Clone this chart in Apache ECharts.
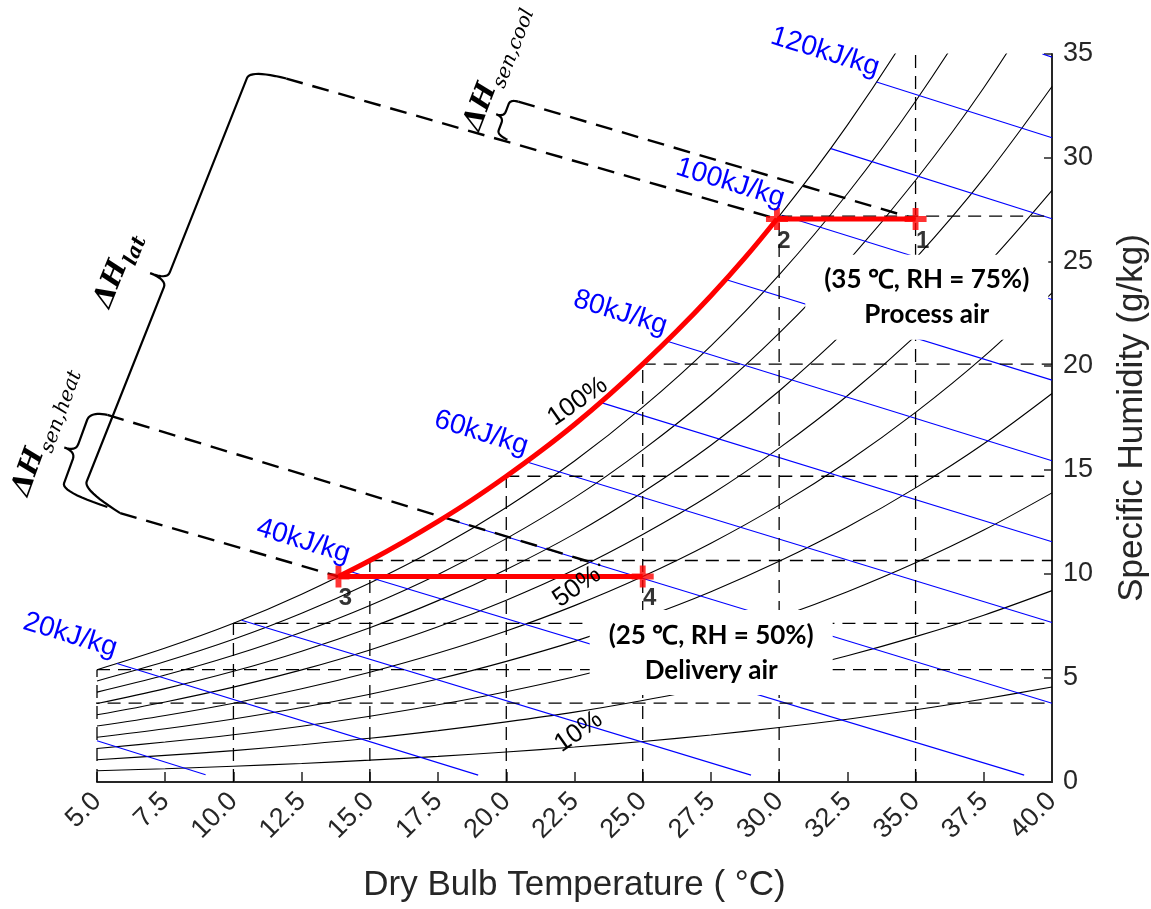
<!DOCTYPE html>
<html><head><meta charset="utf-8">
<script src="https://cdn.jsdelivr.net/npm/echarts@6.0.0/dist/echarts.min.js"></script>
<style>html,body{margin:0;padding:0;background:#fff;}#chart{width:1151px;height:909px;}</style>
</head><body><div id="chart"></div>
<script>
// ---------------- data ----------------
const TEMPS = [5, 7.5, 10, 12.5, 15, 17.5, 20, 22.5, 25, 27.5, 30, 32.5, 35, 37.5, 40];
const RH_LEVELS = [10, 20, 30, 40, 50, 60, 70, 80, 90, 100];
const W_RH10  = [0.54, 0.64, 0.76, 0.89, 1.05, 1.23, 1.44, 1.68, 1.95, 2.26, 2.62, 3.02, 3.47, 3.99, 4.57];
const W_RH20  = [1.07, 1.28, 1.51, 1.79, 2.10, 2.47, 2.89, 3.36, 3.92, 4.54, 5.26, 6.07, 6.99, 8.02, 9.20];
const W_RH30  = [1.61, 1.92, 2.27, 2.68, 3.16, 3.71, 4.34, 5.06, 5.89, 6.84, 7.92, 9.15, 10.54, 12.11, 13.90];
const W_RH40  = [2.15, 2.56, 3.03, 3.58, 4.22, 4.95, 5.80, 6.76, 7.88, 9.15, 10.61, 12.26, 14.14, 16.26, 18.68];
const W_RH50  = [2.69, 3.20, 3.79, 4.48, 5.28, 6.20, 7.26, 8.48, 9.88, 11.48, 13.31, 15.40, 17.77, 20.45, 23.52];
const W_RH60  = [3.23, 3.85, 4.56, 5.39, 6.35, 7.46, 8.74, 10.20, 11.90, 13.82, 16.05, 18.57, 21.45, 24.71, 28.44];
const W_RH70  = [3.77, 4.49, 5.32, 6.29, 7.42, 8.72, 10.22, 11.93, 13.93, 16.19, 18.80, 21.78, 25.17, 29.02, 33.44];
const W_RH80  = [4.32, 5.14, 6.09, 7.20, 8.49, 9.98, 11.70, 13.67, 15.97, 18.57, 21.58, 25.01, 28.93, 33.38, 38.51];
const W_RH90  = [4.86, 5.79, 6.86, 8.11, 9.57, 11.25, 13.20, 15.43, 18.02, 20.97, 24.38, 28.28, 32.73, 37.81, 43.66];
const W_RH100 = [5.40, 6.44, 7.63, 9.03, 10.65, 12.53, 14.70, 17.19, 20.09, 23.38, 27.21, 31.58, 36.58, 42.30, 48.89];

const ENTHALPY_LEVELS = [10, 20, 30, 40, 50, 60, 70, 80, 90, 100, 110, 120, 130];
const ENTHALPY_START = [[5, 1.98], [5.73, 5.70], [10.3, 7.78], [14.25, 10.13], [17.72, 12.70], [20.73, 15.40], [23.45, 18.25], [25.87, 21.20], [28.07, 24.15], [30.1, 27.25], [31.9, 30.45], [33.57, 33.65], [39.65, 35]];
const ENTHALPY_END = [[8.98, 0.35], [18.97, 0.33], [28.97, 0.33], [38.98, 0.33], [40, 3.79], [40, 7.67], [40, 11.55], [40, 15.44], [40, 19.32], [40, 23.20], [40, 27.08], [40, 30.97], [40, 34.85]];
const ENTHALPY_LABELS = ['20kJ/kg', '40kJ/kg', '60kJ/kg', '80kJ/kg', '100kJ/kg', '120kJ/kg'];
const ENTHALPY_LABEL_POS = [[4.02, 7.06], [12.56, 11.58], [19.08, 16.78], [24.18, 22.56], [28.21, 28.80], [31.68, 35.10]];

const RH_LABELS = ['100%', '50%', '10%'];
const RH_LABEL_POS = [[22.61, 18.29], [22.59, 9.38], [22.65, 2.41]];

const GRID_TEMPS = [0, 5, 10, 15, 20, 25, 30, 35];
const GRID_WSAT = [3.79, 5.40, 7.63, 10.65, 14.70, 20.09, 27.21, 36.58];

const STATE_NAMES = ['1', '2', '3', '4'];
const STATE_T = [35, 29.92, 13.85, 25];
const STATE_W = [27.07, 27.07, 9.88, 9.88];
const COOL_T = [29.92, 28.75, 27.5, 26.25, 25, 23.75, 22.5, 21.25, 20, 18.75, 17.5, 16.25, 15, 13.85];
const COOL_W = [27.07, 25.21, 23.38, 21.68, 20.09, 18.59, 17.19, 15.90, 14.70, 13.57, 12.53, 11.56, 10.65, 9.88];

const ANNOT_LINES = [
  [[11.94, 33.82], [29.92, 27.07]],
  [[20.44, 32.71], [35, 27.07]],
  [[5.38, 17.65], [23.44, 10.43]],
  [[5.85, 12.93], [13.85, 9.88]]
];
const BRACES = [
  {h1: [11.94, 33.82], c1: [10.62, 34.25], c2: [4.50, 14.04], h2: [5.85, 12.93], tip: 18},
  {h1: [5.38, 17.65], c1: [4.75, 17.81], c2: [3.68, 13.96], h2: [5.38, 13.22], tip: 12},
  {h1: [20.44, 32.71], c1: [20.15, 32.81], c2: [19.66, 31.12], h2: [20.04, 30.88], tip: 8}
];
const DELTA_SUBS = ['lat', 'sen,heat', 'sen,cool'];
const DELTA_POS = [[5.20, 22.85], [2.20, 13.80], [18.75, 31.36]];
const DELTA_ROT = [68, 70, 69];

const BOX_LINES = [['(35 \u2103, RH = 75%)', 'Process air'], ['(25 \u2103, RH = 50%)', 'Delivery air']];
const BOX_POS = [[35.41, 23.30], [27.51, 6.22]];

// ---------------- chart ----------------
const RH_W = [W_RH10, W_RH20, W_RH30, W_RH40, W_RH50, W_RH60, W_RH70, W_RH80, W_RH90, W_RH100];
const chart = echarts.init(document.getElementById('chart'), null, {renderer: 'canvas'});
const SANS = 'Liberation Sans, Arial, sans-serif';
const series = [];
RH_W.forEach((arr) => {
  series.push({type: 'line', data: TEMPS.map((t, i) => [t, arr[i]]), smooth: 0.35, symbol: 'none', silent: true,
    lineStyle: {color: '#000', width: 1.1}, z: 2});
});
ENTHALPY_LEVELS.forEach((h, i) => {
  series.push({type: 'line', data: [ENTHALPY_START[i], ENTHALPY_END[i]], symbol: 'none', silent: true,
    lineStyle: {color: '#0000ff', width: 1.1}, z: 2});
});
GRID_TEMPS.forEach((t, i) => {
  const ws = GRID_WSAT[i];
  if (t >= 5) series.push({type: 'line', data: [[t, 0], [t, ws]], symbol: 'none', silent: true,
    lineStyle: {color: '#000', width: 1.3, type: [13, 8]}, z: 2});
  if (ws <= 35) series.push({type: 'line', data: [[t, ws], [40, ws]], symbol: 'none', silent: true,
    lineStyle: {color: '#000', width: 1.3, type: [13, 8]}, z: 2});
});
ANNOT_LINES.forEach((seg) => {
  series.push({type: 'line', data: seg, symbol: 'none', silent: true, clip: false,
    lineStyle: {color: '#000', width: 2.4, type: [17, 10]}, z: 3});
});
series.push({type: 'line', data: [[STATE_T[0], STATE_W[0]], [STATE_T[1], STATE_W[1]]], symbol: 'none', silent: true,
  lineStyle: {color: '#ff0000', width: 5}, z: 4});
series.push({type: 'line', data: COOL_T.map((t, i) => [t, COOL_W[i]]), smooth: 0.4, symbol: 'none', silent: true,
  lineStyle: {color: '#ff0000', width: 5}, z: 4});
series.push({type: 'line', data: [[STATE_T[2], STATE_W[2]], [STATE_T[3], STATE_W[3]]], symbol: 'none', silent: true,
  lineStyle: {color: '#ff0000', width: 5}, z: 4});
series.push({type: 'scatter', data: STATE_T.map((t, i) => [t, STATE_W[i]]), silent: true, z: 5,
  symbol: 'path://M-1.6,-6H1.6V-1.6H6V1.6H1.6V6H-1.6V1.6H-6V-1.6H-1.6Z', symbolSize: 22, itemStyle: {color: '#ff0000'},
  label: {show: true, formatter: (p) => STATE_NAMES[p.dataIndex], position: 'inside', offset: [7, 22],
    fontSize: 24, fontWeight: 'bold', color: '#000', fontFamily: SANS}});

const option = {
  animation: false,
  backgroundColor: '#fff',
  grid: {left: 97, right: 99, top: 54, bottom: 127, containLabel: false, outerBoundsMode: 'none'},
  xAxis: {
    type: 'value', min: 5, max: 40, interval: 2.5,
    name: 'Dry Bulb Temperature ( \u00B0C)', nameLocation: 'middle', nameGap: 86,
    nameTextStyle: {fontSize: 35, color: '#262626', fontFamily: SANS},
    axisLine: {show: true, onZero: false, lineStyle: {color: '#262626', width: 2}},
    axisTick: {show: true, inside: true, length: 10, lineStyle: {color: '#262626', width: 1.5}},
    axisLabel: {rotate: 45, fontSize: 27, color: '#262626', margin: 15, fontFamily: SANS,
      formatter: (v) => v.toFixed(1), showMinLabel: true, showMaxLabel: true},
    splitLine: {show: false}
  },
  yAxis: {
    type: 'value', position: 'right', min: 0, max: 35, interval: 5,
    name: 'Specific Humidity (g/kg)', nameLocation: 'middle', nameGap: 63, nameRotate: 90,
    nameTextStyle: {fontSize: 35, color: '#262626', fontFamily: SANS},
    axisLine: {show: true, onZero: false, lineStyle: {color: '#262626', width: 2}},
    axisTick: {show: true, inside: true, length: 8, lineStyle: {color: '#262626', width: 1.5}},
    axisLabel: {fontSize: 27, color: '#262626', margin: 11, fontFamily: SANS},
    splitLine: {show: false}
  },
  series: series
};
chart.setOption(option);

// ---------------- annotations anchored in data coordinates ----------------
function px(p) { return chart.convertToPixel({gridIndex: 0}, p); }
function quad(a, c, b, n) {
  const pts = [];
  for (let i = 0; i <= n; i++) {
    const t = i / n;
    pts.push([(1 - t) * (1 - t) * a[0] + 2 * (1 - t) * t * c[0] + t * t * b[0],
              (1 - t) * (1 - t) * a[1] + 2 * (1 - t) * t * c[1] + t * t * b[1]]);
  }
  return pts;
}
function bracePoints(b) {
  const h1 = px(b.h1), c1 = px(b.c1), c2 = px(b.c2), h2 = px(b.h2);
  const dx = c2[0] - c1[0], dy = c2[1] - c1[1], L = Math.hypot(dx, dy);
  const u = [dx / L, dy / L];
  let n = [-u[1], u[0]];
  if ((c1[0] - h1[0]) * n[0] + (c1[1] - h1[1]) * n[1] < 0) n = [-n[0], -n[1]];
  const add = (p, v, s) => [p[0] + v[0] * s, p[1] + v[1] * s];
  const r = Math.min(9, L / 8), r2 = Math.min(8, L / 6);
  const m = [(c1[0] + c2[0]) / 2, (c1[1] + c2[1]) / 2];
  let pts = [];
  pts = pts.concat(quad(h1, c1, add(c1, u, r), 12));
  pts = pts.concat(quad(add(m, u, -r2), m, add(m, n, b.tip), 8));
  pts = pts.concat(quad(add(m, n, b.tip), m, add(m, u, r2), 8));
  pts = pts.concat(quad(add(c2, u, -r), c2, h2, 12));
  return pts;
}
const ctx = document.createElement('canvas').getContext('2d');
function textW(str, font) { ctx.font = font; return ctx.measureText(str).width; }

const elements = [];
BRACES.forEach((b) => {
  elements.push({type: 'polyline', shape: {points: bracePoints(b)}, silent: true, z: 20,
    style: {stroke: '#000', lineWidth: 2.2, fill: 'none'}});
});
DELTA_SUBS.forEach((sub, i) => {
  const p = px(DELTA_POS[i]);
  const mainFont = 'italic bold 28px "DejaVu Serif"';
  const w = textW('\u0394H', mainFont);
  elements.push({type: 'group', x: p[0], y: p[1], rotation: DELTA_ROT[i] * Math.PI / 180, z: 20, silent: true,
    children: [
      {type: 'text', x: 0, y: 0, z: 20, style: {text: '\u0394H', fontSize: 28, fontFamily: 'DejaVu Serif', fontWeight: 'bold',
        fontStyle: 'italic', fill: '#000', align: 'left', verticalAlign: 'middle'}},
      {type: 'text', x: w + 1, y: 10, z: 20, style: {text: sub, fontSize: 20, fontFamily: 'DejaVu Serif',
        fontWeight: i === 0 ? 'bold' : 'normal', fontStyle: 'italic', fill: '#000', align: 'left', verticalAlign: 'middle'}}
    ]});
});
ENTHALPY_LABELS.forEach((t, i) => {
  const p = px(ENTHALPY_LABEL_POS[i]);
  elements.push({type: 'text', x: p[0], y: p[1], rotation: -17 * Math.PI / 180, z: 15, silent: true,
    style: {text: t, fontSize: 28, fontFamily: SANS, fill: '#0000ff', align: 'center', verticalAlign: 'middle'}});
});
RH_LABELS.forEach((t, i) => {
  const p = px(RH_LABEL_POS[i]);
  elements.push({type: 'text', x: p[0], y: p[1], rotation: 35 * Math.PI / 180, z: 15, silent: true,
    style: {text: t, fontSize: 26, fontFamily: SANS, fill: '#000', align: 'center', verticalAlign: 'middle'}});
});
BOX_LINES.forEach((lines, i) => {
  const p = px(BOX_POS[i]);
  elements.push({type: 'group', x: p[0], y: p[1], z: 30, silent: true, children: [
    {type: 'rect', z: 30, shape: {x: -121.5, y: -42.5, width: 243, height: 85}, style: {fill: '#fff'}},
    {type: 'text', x: 0, y: -17.5, z: 31, style: {text: lines[0], fontSize: 26, fontWeight: 'bold', fontFamily: 'Lato, "Open Sans", sans-serif',
      fill: '#000', align: 'center', verticalAlign: 'middle'}},
    {type: 'text', x: 0, y: 17.5, z: 31, style: {text: lines[1], fontSize: 26, fontWeight: 'bold', fontFamily: 'Lato, "Open Sans", sans-serif',
      fill: '#000', align: 'center', verticalAlign: 'middle'}}
  ]});
});
chart.setOption({graphic: {elements: elements}});
</script>
</body></html>
